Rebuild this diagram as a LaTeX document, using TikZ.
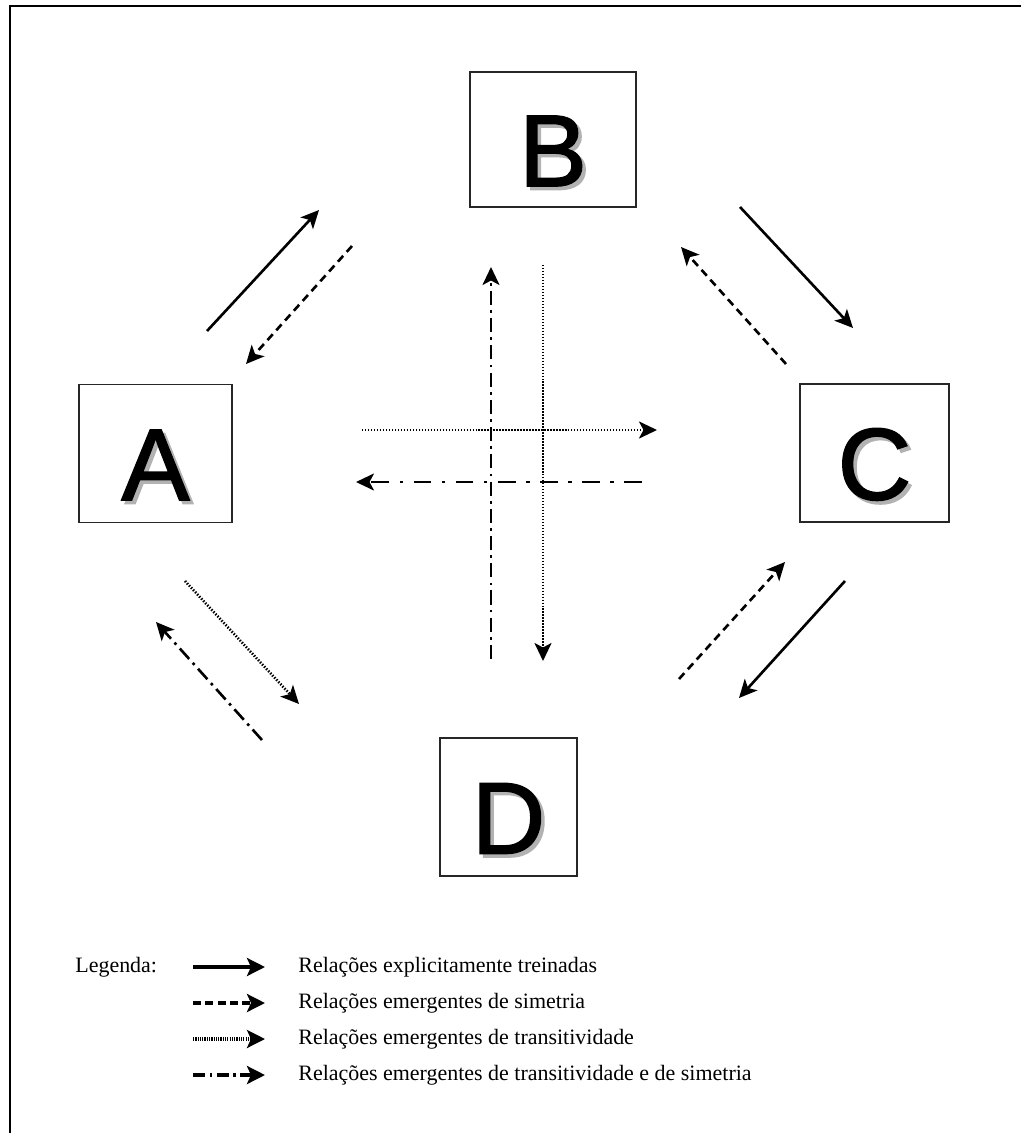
\documentclass[tikz,border=0pt]{standalone}
\usepackage{fontspec}
\setmainfont{Liberation Serif}
\newfontfamily\letrafont[FakeBold=1.6]{Liberation Sans}
\usetikzlibrary{arrows.meta}
\newcommand{\letra}[1]{\makebox[0pt][l]{\hspace{0.07cm}\raisebox{-0.07cm}{\color{black!30}#1}}#1}

\tikzset{
  caixa/.style={draw=black!85, line width=1.1pt, inner sep=0pt, minimum height=2.76cm,
    font=\letrafont\fontsize{58}{60}\selectfont, text height=1.86cm, text depth=0pt},
  seta/.style={line width=1.5pt, -{Stealth[length=3.6mm,width=3.4mm,inset=0.9mm]}},
  treinada/.style={seta},
  simetria/.style={seta, dash pattern=on 4.5pt off 3pt},
  transitiva/.style={seta, line width=1.5pt, dash pattern=on 0.8pt off 0.9pt},
  transsim/.style={seta, dash pattern=on 8pt off 3pt on 1.5pt off 3pt},
  legseta/.style={line width=2.2pt, -{Stealth[length=3.6mm,width=3.6mm,inset=0.8mm]}},
  rotulo/.style={anchor=west, inner sep=0pt, font=\fontsize{12.5}{14}\selectfont}
}

\begin{document}
\begin{tikzpicture}[x=0.02cm, y=-0.02cm]
		%%%%% START %%%%%
		\useasboundingbox (0, 0) rectangle (1021, 1133);
		
		\draw[line width=1.7pt] (10, 1133) -- (10, 6) -- (1021, 6);
		
		\node[caixa, minimum width=3.06cm] (A) at (155.5, 453.5) {\letra{A}};
		\node[caixa, minimum width=3.32cm, minimum height=2.7cm] (B) at (553, 139.5) {\letra{B}};
		\node[caixa, minimum width=2.98cm] (C) at (874.5, 453) {\letra{C}};
		\node[caixa, minimum width=2.74cm] (D) at (508.5, 807) {\letra{D}};
		
		\coordinate (ab0) at (207, 331);
		\coordinate (ab1) at (319, 210);
		\coordinate (ba0) at (352, 246);
		\coordinate (ba1) at (246, 364);
		\coordinate (bc0) at (740, 207);
		\coordinate (bc1) at (853, 328);
		\coordinate (cb0) at (786, 364);
		\coordinate (cb1) at (681, 247);
		\coordinate (ad0) at (185, 581);
		\coordinate (ad1) at (299, 704);
		\coordinate (da0) at (262, 740);
		\coordinate (da1) at (156, 622);
		\coordinate (dc0) at (679, 679);
		\coordinate (dc1) at (785, 562);
		\coordinate (cd0) at (845, 581);
		\coordinate (cd1) at (739, 698);
		
		\coordinate (bd0) at (543, 265);
		\coordinate (bd1) at (543, 661);
		\coordinate (db0) at (491, 659);
		\coordinate (db1) at (491, 267);
		\coordinate (ac0) at (362, 430);
		\coordinate (ac1) at (657, 430);
		\coordinate (ca0) at (642, 482);
		\coordinate (ca1) at (356, 482);
		
		\draw[treinada] (ab0) -- (ab1);
		\draw[simetria] (ba0) -- (ba1);
		\draw[treinada] (bc0) -- (bc1);
		\draw[simetria] (cb0) -- (cb1);
		\draw[transitiva] (ad0) -- (ad1);
		\draw[transsim] (da0) -- (da1);
		\draw[simetria] (dc0) -- (dc1);
		\draw[treinada] (cd0) -- (cd1);
		
		\draw[transitiva] (bd0) -- (bd1);
		\draw[transsim] (db0) -- (db1);
		\draw[transitiva] (ac0) -- (ac1);
		\draw[transsim, dash pattern=on 10pt off 6pt on 2pt off 6pt] (ca0) -- (ca1);
		
		% legenda
		\node[rotulo] (leg) at (75, 967) {Legenda:};
		\node[rotulo] (l1) at (298, 967) {Relações explicitamente treinadas};
		\node[rotulo] (l2) at (298, 1003) {Relações emergentes de simetria};
		\node[rotulo] (l3) at (298, 1039) {Relações emergentes de transitividade};
		\node[rotulo] (l4) at (298, 1075) {Relações emergentes de transitividade e de simetria};
		
		\draw[legseta] (l1.west) ++(-105, 0) -- ++(72, 0);
		\draw[legseta, dash pattern=on 4.5pt off 2.5pt] (l2.west) ++(-105, 0) -- ++(72, 0);
		\draw[legseta, line width=1.8pt, dash pattern=on 0.7pt off 0.6pt] (l3.west) ++(-105, 0) -- ++(72, 0);
		\draw[legseta, dash pattern=on 7pt off 2.5pt on 1.5pt off 2.5pt] (l4.west) ++(-105, 0) -- ++(72, 0);
		
		%%%%% END %%%%%
\end{tikzpicture}
\end{document}
